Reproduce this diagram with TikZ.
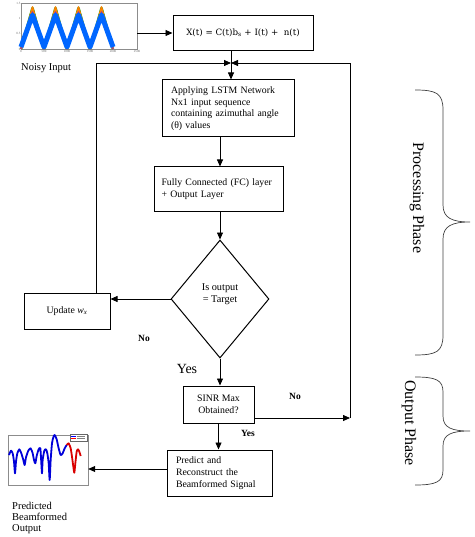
\documentclass[tikz,border=0pt]{standalone}
\usepackage{fontspec}
\setmainfont{Liberation Serif}
\newfontfamily\eqfont{DejaVu Serif}
\usetikzlibrary{arrows.meta,shapes.geometric}
\begin{document}
\begin{tikzpicture}[x=1pt,y=-1pt,
  box/.style={draw, line width=1pt, inner sep=0pt, font=\fontsize{9.8}{11.7}\selectfont},
  arr/.style={line width=0.8pt, -{Triangle[length=7pt,width=6pt]}},
  ln/.style={line width=0.8pt},
  lbl/.style={font=\fontsize{9.5}{11}\selectfont\bfseries, inner sep=0pt},
  brace/.style={line width=0.7pt, draw=black!75},
  phase/.style={font=\fontsize{16}{18}\selectfont, rotate=-90, inner sep=0pt},
  tick/.style={font=\fontsize{3.2}{3.2}\selectfont, text=black!60, inner sep=0.4pt},
  frame/.style={draw=black!45, line width=0.4pt, inner sep=0pt}]
\useasboundingbox (0,0) rectangle (474,537);

% ---------- noisy input plot ----------
\node[frame, minimum width=116pt, minimum height=46pt] (inp) at (79,26) {};
\foreach \c/\o/\w in {green!60!black/-3/2.5, red!80!black/2.5/2, yellow!80!black/-1.5/2, cyan/3.5/2, orange/-4/1.5, magenta!70!black/1/1.5}{
  \draw[\c, line width=\w pt, line join=round]
    (21,49) -- (32.5,11+\o) -- (44,49) -- (55.5,11+\o) -- (67,49) -- (78.5,11+\o) -- (90,49) -- (101.5,11+\o) -- (113,49);
}
\draw[blue!60!cyan, line width=5pt, line join=round]
    (21,47) -- (32.5,15) -- (44,47) -- (55.5,15) -- (67,47) -- (78.5,15) -- (90,47) -- (101.5,15) -- (113,47);
\foreach \t/\x in {0/21,500/44,1000/67,1500/90,2000/113,2500/137}{
  \node[tick, anchor=north] (xt\t) at (\x,50) {\t};
}
\foreach \t/\y in {0/49,0.5/33.7,1/18.3,1.5/3}{
  \node[tick, anchor=east] (yt\t) at (21,\y) {\t};
}
\node[anchor=west, font=\fontsize{10.5}{12}\selectfont, inner sep=0pt] (nl) at (21,68) {Noisy Input};

% ---------- output plot ----------
\node[frame, minimum width=80pt, minimum height=50pt] (outp) at (48,460) {};
\begin{scope}[shift={(0,420)}, scale=1/3]
  \draw[blue!85!black, line width=1.8pt, line join=round]
    plot[smooth, tension=0.4] coordinates {(27,105) (33,92) (38,100) (42,125) (45,160) (48,125) (52,100) (58,88) (64,100) (70,120) (74,135) (78,112) (85,92) (92,85) (98,100) (102,120) (106,130) (110,108) (116,88) (121,85) (124,130) (126,160) (128,120) (133,92) (138,88) (142,100) (146,130) (149,180) (152,120) (156,70) (160,52) (164,45) (170,58) (176,85) (182,105) (188,100) (194,85) (200,75)};
  \draw[red!85!black, line width=1.8pt, line join=round]
    plot[smooth, tension=0.4] coordinates {(200,75) (206,70) (212,85) (216,110) (220,140) (223,158) (226,130) (230,95) (234,88) (238,95) (242,108)};
  \draw[black!60, line width=0.3pt, fill=white] (210,42) rectangle (260,62);
  \draw[blue, line width=0.8pt] (214,48) -- (228,48);
  \draw[red, line width=0.8pt] (214,56) -- (228,56);
  \draw[black!50, line width=0.6pt] (232,48) -- (255,48) (232,56) -- (255,56);
\end{scope}
\node[anchor=north west, align=left, font=\fontsize{10.5}{10.8}\selectfont, inner sep=0pt] (ol) at (12,502) {Predicted\\Beamformed\\Output};

% ---------- boxes ----------
\node[box, minimum width=140pt, minimum height=35pt, font=\eqfont\fontsize{8.7}{10}\selectfont] (X) at (243,33)
  {X(t) = C(t)b\textsubscript{s} + I(t) +\ \ n(t)};
\node[box, minimum width=132pt, minimum height=57pt, text width=114pt, align=left] (L) at (228,108.5)
  {Applying LSTM Network\\Nx1 input sequence\\containing azimuthal angle\\(θ) values};
\node[box, minimum width=129pt, minimum height=44pt, text width=114pt, align=left] (FC) at (218.5,189)
  {Fully Connected (FC) layer\\+ Output Layer};
\node[draw, diamond, line width=1pt, minimum width=98pt, minimum height=118pt, inner sep=0pt, align=center,
      text depth=12pt, font=\fontsize{10.3}{12}\selectfont] (D) at (220,299) {Is output\\= Target};
\node[box, minimum width=86pt, minimum height=36pt] (U) at (67,311) {Update \textit{w}\textsubscript{\textit{x}}};
\node[box, minimum width=71pt, minimum height=37pt, align=center] (S) at (218.5,404.5) {SINR Max\\Obtained?};
\node[box, minimum width=105pt, minimum height=46pt, text width=87pt, align=left] (P) at (219.5,473)
  {Predict and\\Reconstruct the\\Beamformed Signal};

% ---------- labels ----------
\node[lbl] (no1) at (144,338) {No};
\node[font=\fontsize{14}{16}\selectfont, inner sep=0pt] (yes1) at (187,369) {Yes};
\node[lbl] (no2) at (295,396) {No};
\node[lbl] (yes2) at (248,433) {Yes};

% ---------- connectors ----------
\coordinate (J) at (231,63);
\coordinate (R) at (350,418);
\draw[arr] (inp.east |- X.west) -- (X.west);
\draw[ln] (J |- X.south) -- (J);
\draw[arr] (J) -- (J |- L.north);
\draw[arr] ([xshift=29pt]U.north) |- (J);
\draw[arr] (S.east |- R) -- (R);
\draw[arr] (R) |- (J);
\draw[arr] ([xshift=-8pt]L.south) -- ([xshift=-8pt]L.south |- FC.north);
\draw[arr] (FC.south -| D.north) -- (D.north);
\draw[arr] (D.west) -- (D.west -| U.east);
\draw[arr] (D.south) -- (D.south |- S.north);
\draw[arr] (S.south) -- (S.south |- P.north);
\draw[arr] ([yshift=4pt]P.west) -- ([yshift=4pt]P.west -| outp.east);

% ---------- braces ----------
\draw[brace] (415,90) .. controls (436,90) and (443,93) .. (443,110) -- (443,205)
  .. controls (443,218) and (452,222) .. (470,222)
  .. controls (452,222) and (443,226) .. (443,239) -- (443,335)
  .. controls (443,352) and (436,355) .. (415,355);
\draw[brace] (415,377) .. controls (436,377) and (443,380) .. (443,392) -- (443,416)
  .. controls (443,428) and (452,431) .. (470,431)
  .. controls (452,431) and (443,434) .. (443,446) -- (443,470)
  .. controls (443,482) and (436,485) .. (415,485);
\node[phase] (pp) at (417,198) {Processing Phase};
\node[phase] (op) at (409,423) {Output Phase};
\end{tikzpicture}
\end{document}
